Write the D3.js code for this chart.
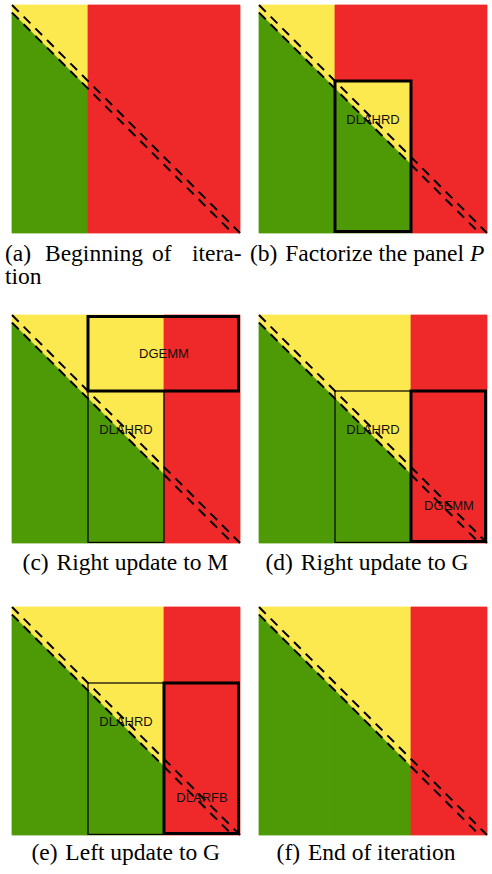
<!DOCTYPE html>
<html>
<head>
<meta charset="utf-8">
<script src="https://cdn.jsdelivr.net/npm/d3@7"></script>
<style>
  html, body { margin: 0; padding: 0; background: #fff; }
  svg { display: block; }
</style>
</head>
<body>
<script>
// One iteration of the blocked Hessenberg reduction on a 3x3 block matrix.

// Sub-figure labels and captions.
const panelKeys = ["a", "b", "c", "d", "e", "f"];
const captionTexts = [
  "Beginning of iteration",
  "Factorize the panel P",
  "Right update to M",
  "Right update to G",
  "Left update to G",
  "End of iteration"
];
const mathSymbols = ["P"];

// Matrix size in blocks and the sub-diagonal offset (in block units).
const nBlocks = 3;
const subdiagOffset = 0.1;

// For each panel and each block column: the block row from which the column
// is already reduced (yellow above the sub-diagonal, green below); null = untouched.
const reducedFrom = {
  a: [0, null, null],
  b: [0, 1, null],
  c: [0, 0, null],
  d: [0, 0, null],
  e: [0, 0, null],
  f: [0, 0, null]
};

// Kernel boxes: block column range, block row range, and whether the kernel is active.
const kernelPanels = ["b", "c", "c", "d", "d", "e", "e"];
const kernelNames  = ["DLAHRD", "DLAHRD", "DGEMM", "DLAHRD", "DGEMM", "DLAHRD", "DLARFB"];
const kernelCols   = [[1, 2], [1, 2], [1, 3], [1, 2], [2, 3], [1, 2], [2, 3]];
const kernelRows   = [[1, 3], [1, 3], [0, 1], [1, 3], [1, 3], [1, 3], [1, 3]];
const kernelActive = [true, false, true, false, true, false, true];

// Colours.
const colYellow = "#fce94f";
const colRed = "#ef2929";
const colGreen = "#4e9a06";

// Layout.
const W = 492, H = 874;
const size = 228;
const colX = [12, 259];
const rowY = [5, 315, 607];

const svg = d3.select("body").append("svg")
  .attr("width", W).attr("height", H)
  .attr("viewBox", `0 0 ${W} ${H}`);

const kernels = kernelNames.map((name, i) => ({
  panel: kernelPanels[i], name, cols: kernelCols[i], rows: kernelRows[i], active: kernelActive[i]
}));

panelKeys.forEach((key, i) => {
  const px = colX[i % 2], py = rowY[Math.floor(i / 2)];
  const x = d3.scaleLinear().domain([0, nBlocks]).range([px, px + size]);
  const y = d3.scaleLinear().domain([0, nBlocks]).range([py, py + size]);
  const line = d3.line().x(d => x(d[0])).y(d => y(d[1]));
  const g = svg.append("g").attr("class", "panel-" + key);

  // Block columns
  const regions = [];
  reducedFrom[key].forEach((r, c) => {
    if (r === null) {
      regions.push({ fill: colRed, pts: [[c, 0], [c + 1, 0], [c + 1, nBlocks], [c, nBlocks]] });
      return;
    }
    if (r > 0) regions.push({ fill: colRed, pts: [[c, 0], [c + 1, 0], [c + 1, r], [c, r]] });
    regions.push({ fill: colYellow, pts: [[c, r], [c + 1, r], [c + 1, c + 1 + subdiagOffset], [c, c + subdiagOffset]] });
    regions.push({ fill: colGreen, pts: [[c, c + subdiagOffset], [c + 1, c + 1 + subdiagOffset], [c + 1, nBlocks], [c, nBlocks]] });
  });
  g.selectAll("path.region").data(regions).join("path")
    .attr("class", "region")
    .attr("d", d => line(d.pts) + "Z")
    .attr("fill", d => d.fill)
    .attr("stroke", d => d.fill)
    .attr("stroke-width", 0.8)
    .attr("stroke-linejoin", "miter");

  // Diagonal and sub-diagonal
  const diagonals = [
    [[0, 0], [nBlocks, nBlocks]],
    [[0, subdiagOffset], [nBlocks - subdiagOffset, nBlocks]]
  ];
  g.selectAll("path.diag").data(diagonals).join("path")
    .attr("class", "diag")
    .attr("d", line)
    .attr("fill", "none")
    .attr("stroke", "#000")
    .attr("stroke-width", 2)
    .attr("stroke-dasharray", "9.5,7");

  // Kernel boxes (inactive thin boxes first, active thick ones on top)
  const ks = kernels.filter(k => k.panel === key)
    .sort((a, b) => (a.active ? 1 : 0) - (b.active ? 1 : 0));
  ks.forEach(k => {
    const sw = k.active ? 3 : 1.2;
    const clampX = v => Math.min(Math.max(v, px + sw / 2), px + size - sw / 2);
    const clampY = v => Math.min(Math.max(v, py + sw / 2), py + size - sw / 2);
    const x0 = clampX(x(k.cols[0])), x1 = clampX(x(k.cols[1]));
    const y0 = clampY(y(k.rows[0])), y1 = clampY(y(k.rows[1]));
    g.append("rect")
      .attr("x", x0).attr("y", y0)
      .attr("width", x1 - x0).attr("height", y1 - y0)
      .attr("fill", "none")
      .attr("stroke", "#000")
      .attr("stroke-width", sw);
  });
  ks.forEach(k => {
    // Panel factorisation is labelled in its top block, updates in their bottom block
    const lc = (k.cols[0] + k.cols[1]) / 2;
    const lr = k.name === "DLAHRD" ? k.rows[0] + 0.5 : k.rows[1] - 0.5;
    g.append("text")
      .attr("x", x(lc))
      .attr("y", y(lr) + 4.7)
      .attr("text-anchor", "middle")
      .attr("font-family", "'Liberation Sans', Arial, sans-serif")
      .attr("font-size", 13)
      .attr("fill", "#111")
      .text(k.name);
  });
});

// Captions
const capFont = "'Liberation Serif', 'Times New Roman', serif";
const capSize = 23.5;
function caption(i, xPos, yPos, anchor) {
  const t = svg.append("text")
    .attr("x", xPos).attr("y", yPos)
    .attr("text-anchor", anchor)
    .attr("font-family", capFont)
    .attr("font-size", capSize)
    .attr("fill", "#000");
  t.append("tspan").text("(" + panelKeys[i] + ")");
  const words = captionTexts[i].split(" ");
  words.forEach((w, j) => {
    const ts = t.append("tspan").attr("dx", j ? 0 : 2);
    if (mathSymbols.includes(w)) {
      ts.text(" ").append("tspan").attr("font-style", "italic").text(w);
    } else {
      ts.text(" " + w);
    }
  });
}

// (a) is justified over two lines with a hyphenated break
(function () {
  const i = 0;
  const first = captionTexts[i].replace("iteration", "itera-").split(" ");
  const words = ["(" + panelKeys[i] + ")"].concat(first);
  const starts = [5, 45, 152, 192];
  const t = svg.append("text")
    .attr("font-family", capFont).attr("font-size", capSize).attr("fill", "#000");
  words.forEach((w, j) => {
    t.append("tspan").attr("x", starts[j]).attr("y", 261).text(w);
  });
  t.append("tspan").attr("x", 5).attr("y", 284).text("tion");
})();
caption(1, 250, 261, "start");
caption(2, 125.4, 570, "middle");
caption(3, 367, 570, "middle");
caption(4, 125.7, 860, "middle");
caption(5, 366, 860, "middle");
</script>
</body>
</html>
